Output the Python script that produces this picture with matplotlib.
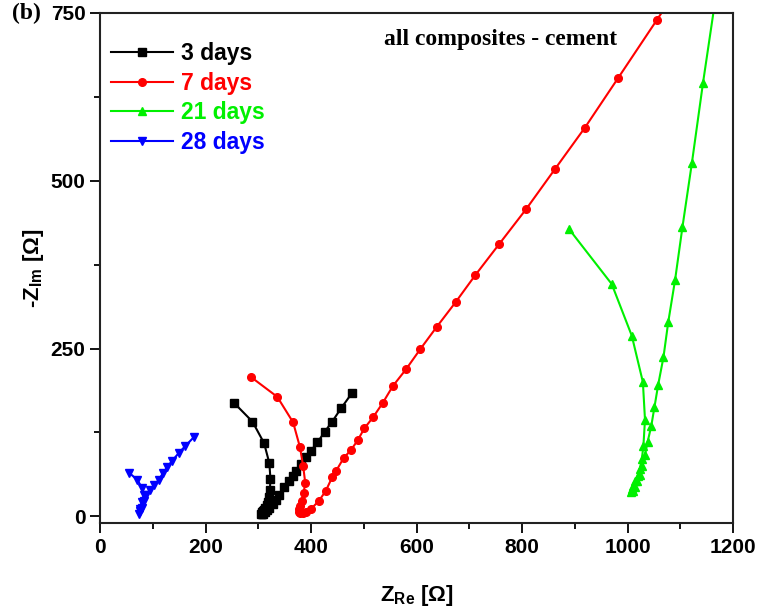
import matplotlib
matplotlib.use('Agg')
import matplotlib.pyplot as plt
from matplotlib.ticker import MultipleLocator

plt.rcParams['font.family'] = ['Liberation Sans', 'DejaVu Sans']
plt.rcParams['mathtext.fontset'] = 'custom'
plt.rcParams['mathtext.rm'] = 'Liberation Sans:bold'
plt.rcParams['mathtext.bf'] = 'Liberation Sans:bold'

# ---- data ----
x3 = [254, 289, 311, 321, 323, 322, 320, 318, 316, 313, 310, 308, 307, 306, 307, 309, 312, 316, 321,
      327, 333, 340, 349, 358, 365, 371, 381, 390, 400, 412, 426, 440, 457, 477]
y3 = [169, 141, 109, 79, 56, 39, 28, 22, 17, 13, 10, 8, 6, 4, 3, 4, 6, 9, 13,
      18, 24, 31, 43, 53, 60, 68, 78, 88, 98, 110, 126, 141, 161, 183]

x7 = [287, 336, 366, 379, 385, 389, 386, 382, 379, 378, 378, 380, 384, 390, 400, 415, 428, 440, 447,
      462, 476, 489, 501, 518, 536, 555, 580, 607, 638, 674, 711, 756, 808, 862, 919, 982, 1055, 1140]
y7 = [207, 178, 140, 103, 75, 50, 35, 23, 16, 11, 7, 5, 5, 7, 11, 23, 38, 58, 67,
      87, 99, 114, 131, 148, 169, 194, 219, 249, 282, 319, 359, 405, 458, 517, 579, 653, 739, 840]

x21 = [889, 970, 1008, 1029, 1033, 1030, 1027, 1023, 1019, 1015, 1011, 1008, 1006,
       1010, 1014, 1018, 1023, 1028, 1033, 1038, 1045, 1051, 1058, 1068, 1077, 1090, 1104, 1122, 1143, 1172]
y21 = [428, 346, 269, 200, 144, 105, 85, 70, 60, 52, 45, 40, 36,
       38, 44, 52, 62, 75, 92, 111, 135, 163, 196, 237, 289, 352, 431, 527, 646, 800]

x28 = [55, 71, 80, 83, 79, 75, 73, 76, 79, 83, 87, 94, 103, 111, 119, 127, 137, 149, 162, 178]
y28 = [65, 54, 42, 32, 21, 11, 3, 8, 13, 23, 31, 39, 47, 54, 64, 73, 83, 94, 105, 118]

labels = ['3 days', '7 days', '21 days', '28 days']
colors = ['black', 'red', '#00f000', 'blue']
markers = ['s', 'o', '^', 'v']

fig = plt.figure(figsize=(7.6, 6.15), dpi=100)
ax = fig.add_axes([0.1316, 0.1496, 0.833, 0.8293])

series = [(x3, y3), (x7, y7), (x21, y21), (x28, y28)]
for (xs, ys), lab, c, m in zip(series, labels, colors, markers):
    ax.plot(xs, ys, color=c, marker=m, markersize=5.5, lw=1.5, label=lab)

ax.set_xlim(0, 1200)
ax.set_ylim(-10, 750)
ax.xaxis.set_major_locator(MultipleLocator(200))
ax.xaxis.set_minor_locator(MultipleLocator(100))
ax.yaxis.set_major_locator(MultipleLocator(250))
ax.yaxis.set_minor_locator(MultipleLocator(125))
ax.tick_params(which='both', direction='out', top=False, right=False, width=1.3)
ax.tick_params(which='major', length=7, labelsize=15)
ax.tick_params(which='minor', length=4)
for lb in ax.get_xticklabels() + ax.get_yticklabels():
    lb.set_fontweight('bold')
for s in ax.spines.values():
    s.set_linewidth(1.5)
    s.set_color('#222222')

ax.set_xlabel(r'Z$_{\mathrm{Re}}$ [Ω]', fontsize=16, fontweight='bold', labelpad=19)
ax.set_ylabel(r'-Z$_{\mathrm{Im}}$ [Ω]', fontsize=16, fontweight='bold', labelpad=3)

leg = ax.legend(loc='upper left', frameon=False, fontsize=16.5, handlelength=2.7,
                handletextpad=0.35, labelspacing=0.28, borderaxespad=0.3,
                borderpad=0.2, bbox_to_anchor=(0.0, 0.965))
for t, c in zip(leg.get_texts(), colors):
    t.set_color(c)
    t.set_fontweight('bold')

ax.text(760, 710, 'all composites - cement', family=['Liberation Serif', 'DejaVu Serif'],
        fontsize=17, fontweight='bold', ha='center', va='center')
fig.text(0.016, 0.978, '(b)', family=['Liberation Serif', 'DejaVu Serif'],
         fontsize=17, fontweight='bold', ha='left', va='center')

fig.savefig('out.png', dpi=100)
